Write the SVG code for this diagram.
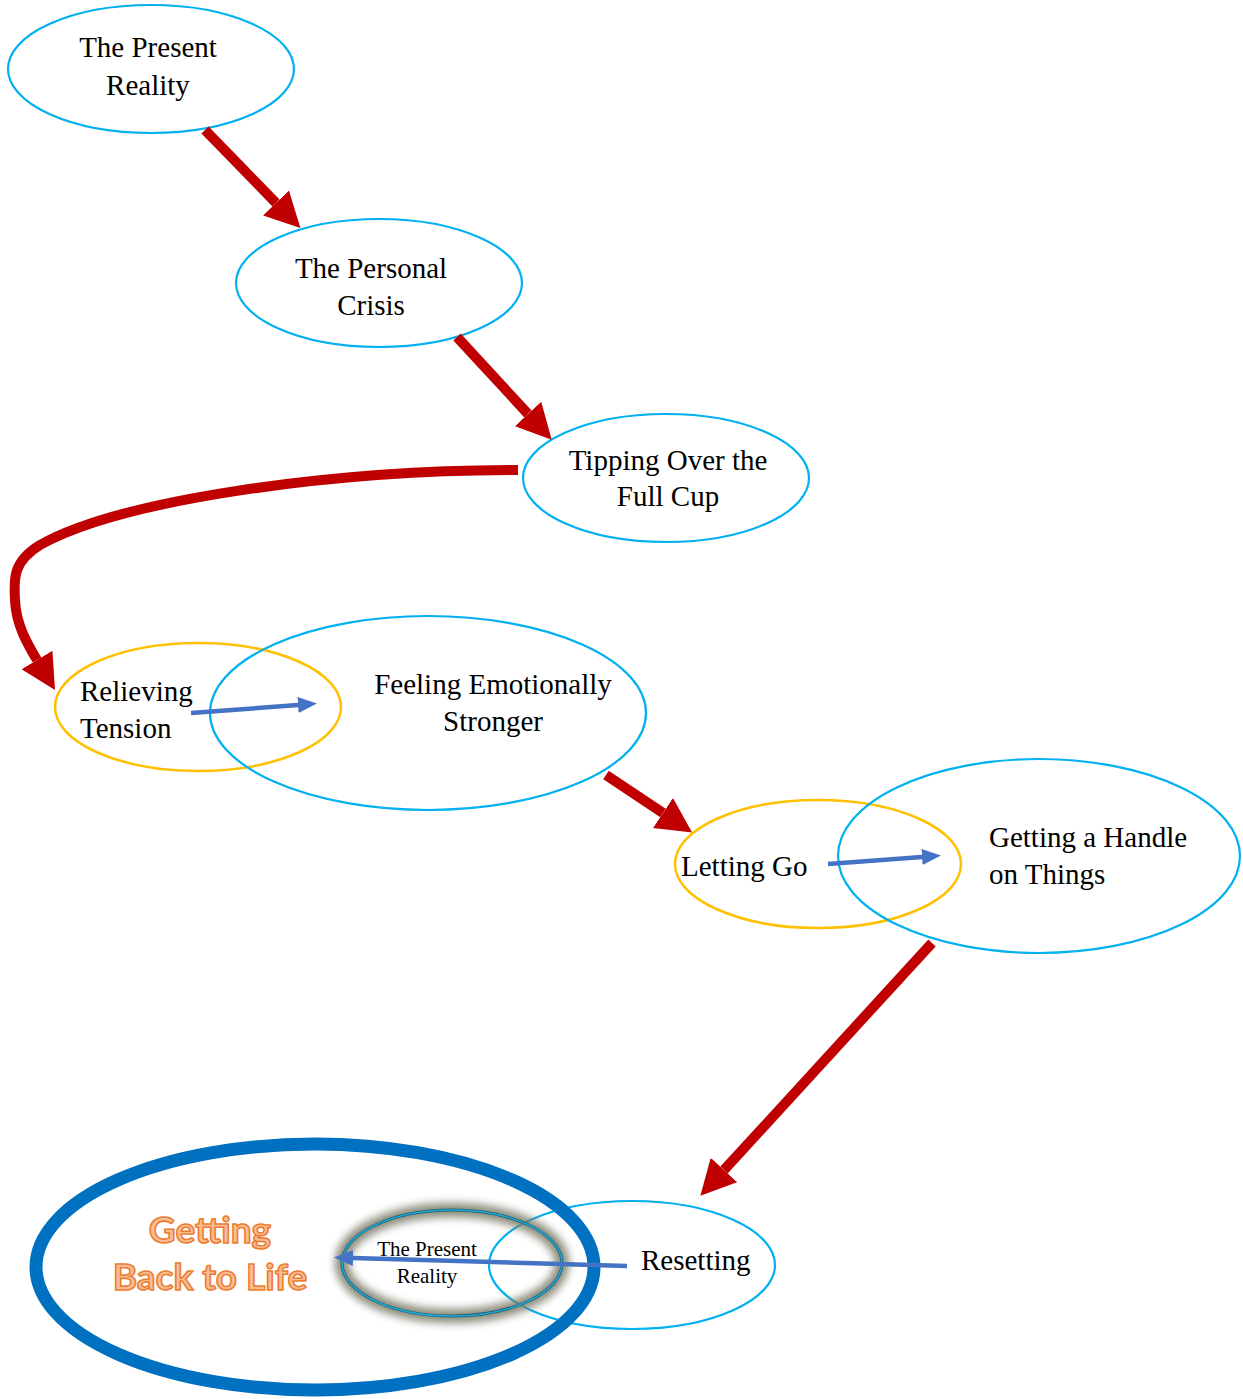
<svg xmlns="http://www.w3.org/2000/svg" width="1243" height="1399" viewBox="0 0 1243 1399">
<style>
.bl{fill:none;stroke:#00B0F0;stroke-width:2.2}
.or{fill:none;stroke:#FFC000;stroke-width:2.5}
.t{font-family:"Liberation Serif","Times New Roman",serif;font-size:29px;fill:#000}
.c{text-anchor:middle}
.red{fill:none;stroke:#C00000;stroke-width:10;marker-end:url(#rh)}
.blu{fill:none;stroke:#4472C4;stroke-width:4.5;marker-end:url(#bh)}
.gl{font-family:Lato,"Open Sans","Liberation Sans",sans-serif;font-weight:bold;font-size:37px;fill:#F9BE94;stroke:#ED7D31;stroke-width:1.6;text-anchor:middle}
</style>
<defs>
<marker id="rh" markerUnits="userSpaceOnUse" viewBox="0 0 35 36" refX="0" refY="18" markerWidth="35" markerHeight="36" orient="auto"><path d="M0,0 L35,18 L0,36 z" fill="#C00000"/></marker>
<marker id="bh" markerUnits="userSpaceOnUse" viewBox="0 0 19 16" refX="0" refY="8" markerWidth="19" markerHeight="16" orient="auto"><path d="M0,0 L19,8 L0,16 z" fill="#4472C4"/></marker>
<filter id="blur" x="-20%" y="-30%" width="140%" height="160%"><feGaussianBlur stdDeviation="4"/></filter>
</defs>

<g id="n1"><ellipse class="bl" cx="151" cy="69" rx="143" ry="64"/><text class="t c" x="148" y="57">The Present</text><text class="t c" x="148" y="95">Reality</text></g>
<g id="n2"><ellipse class="bl" cx="379" cy="283" rx="143" ry="64"/><text class="t c" x="371" y="278">The Personal</text><text class="t c" x="371" y="315">Crisis</text></g>
<g id="n3"><ellipse class="bl" cx="666" cy="478" rx="143" ry="64"/><text class="t c" x="668" y="470">Tipping Over the</text><text class="t c" x="668" y="506">Full Cup</text></g>
<g id="n4"><ellipse class="or" cx="198" cy="707" rx="143" ry="64"/><text class="t" x="80" y="701">Relieving</text><text class="t" x="80" y="738">Tension</text></g>
<g id="n5"><ellipse class="bl" cx="428" cy="713" rx="218" ry="97"/><text class="t c" x="493" y="694">Feeling Emotionally</text><text class="t c" x="493" y="731">Stronger</text></g>
<g id="n6"><ellipse class="or" cx="818" cy="864" rx="143" ry="64"/><text class="t" x="681" y="876">Letting Go</text></g>
<g id="n7"><ellipse class="bl" cx="1039" cy="856" rx="201" ry="97"/><text class="t" x="989" y="847">Getting a Handle</text><text class="t" x="989" y="884">on Things</text></g>
<g id="n8"><ellipse class="bl" cx="632" cy="1265" rx="143" ry="64"/><text class="t" x="641" y="1270">Resetting</text></g>
<g id="n9"><ellipse cx="315" cy="1267" rx="279" ry="123" fill="none" stroke="#0070C0" stroke-width="13"/><text class="gl" x="210" y="1243">Getting</text><text class="gl" x="210" y="1290">Back to Life</text></g>
<g id="n10"><ellipse cx="452" cy="1263" rx="110" ry="53" fill="none" stroke="#7d7d6a" stroke-width="14" filter="url(#blur)" opacity="0.9"/><ellipse cx="452" cy="1263" rx="110" ry="53" fill="none" stroke="#1f5f70" stroke-width="3"/><ellipse cx="452" cy="1263" rx="110" ry="53" fill="none" stroke="#1fa8d8" stroke-width="1.5"/><text class="t c" x="427" y="1256" style="font-size:21px">The Present</text><text class="t c" x="427" y="1283" style="font-size:21px">Reality</text></g>

<g id="connectors">
<path class="red" d="M205,130 L276,203"/>
<path class="red" d="M457,337 L528,414"/>
<path class="red" d="M518,470 C330,470 120,500 40,545 C12,562 14,580 15,600 C16,625 28,645 37,660"/>
<path class="red" d="M606,775 L663,813"/>
<path class="red" d="M932,943 L724,1170"/>
<path class="blu" d="M191,713 L298,705"/>
<path class="blu" d="M828,864 L922,857"/>
<path class="blu" d="M627,1266 L353,1258"/>
</g>
</svg>
